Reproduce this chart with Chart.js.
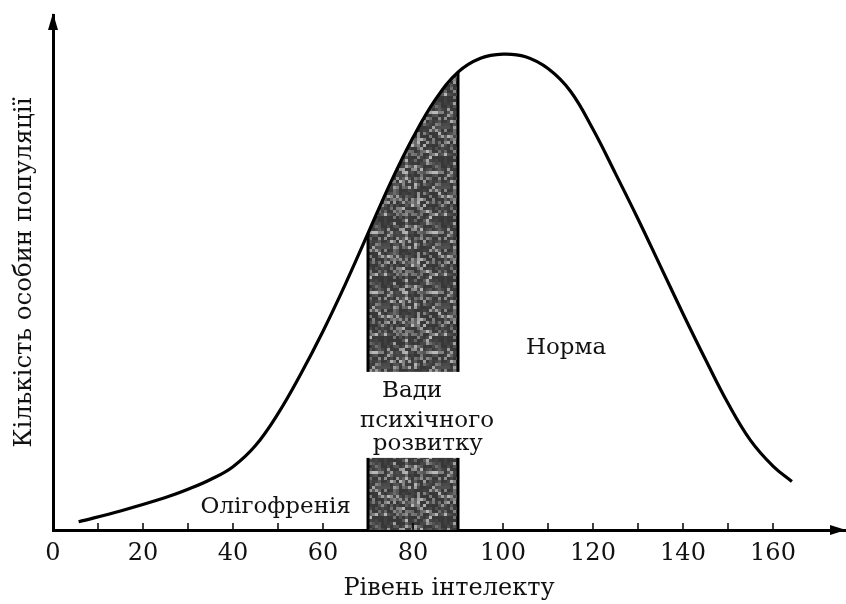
<!DOCTYPE html>
<html>
<head>
<meta charset="utf-8">
<script src="https://cdn.jsdelivr.net/npm/chart.js@4"></script>
<style>
  html, body { margin: 0; padding: 0; background: #fff; }
  #wrap { width: 846px; height: 604px; }
</style>
</head>
<body>
<div id="wrap"><canvas id="iq-chart"></canvas></div>
<script>
// рівень інтелекту (x) і відносна кількість особин (y)
const iqLevels = [5.7, 15, 25, 30, 35, 40, 45, 50, 55, 60, 65, 70, 75, 80, 85, 90, 95, 100, 105, 110,
                  115, 120, 125, 130, 135, 140, 145, 150, 155, 160, 164.2];
const counts   = [1.6, 3.7, 6.3, 7.9, 9.8, 12.3, 16.4, 22.6, 30.2, 38.6, 47.8, 57.6, 67.4, 76.2, 83.6, 88.9, 91.6, 92.4, 91.9, 89.6,
                  85.2, 77.8, 69.2, 60.4, 51.2, 42.0, 33.1, 24.6, 17.4, 12.4, 9.4];
const shadeRange = [70, 90];
const xTickLabels = [0, 20, 40, 60, 80, 100, 120, 140, 160];
const minorTicks = [10, 20, 30, 40, 50, 60, 70, 80, 90, 100, 110, 120, 130, 140, 150, 160];

const FONT = "'DejaVu Serif', 'Liberation Serif', serif";

const curve = iqLevels.map((v, i) => ({x: v, y: counts[i]}));
const shaded = curve.filter(p => p.x >= shadeRange[0] && p.x <= shadeRange[1]);

// сіра "зерниста" текстура для заштрихованої області
function makeTexture() {
    const c = document.createElement('canvas');
    c.width = 60; c.height = 60;
    const g = c.getContext('2d');
    for (let i = 0; i < 20; i++) {
        for (let j = 0; j < 20; j++) {
            let n = Math.sin(i * 12.9898 + j * 78.233) * 43758.5453;
            n = n - Math.floor(n);
            const v = Math.round(55 + 130 * n * n * n);
            g.fillStyle = `rgb(${v},${v},${v})`;
            g.fillRect(i * 3, j * 3, 3, 3);
        }
    }
    return g.createPattern(c, 'repeat');
}

const overlay = {
    id: 'overlay',
    afterDatasetsDraw(chart) {
        const {ctx, chartArea, scales: {x, y}} = chart;
        ctx.save();

        // краї заштрихованої області
        ctx.strokeStyle = '#000';
        ctx.lineWidth = 3;
        shadeRange.forEach(v => {
            const p = curve.find(pt => pt.x === v);
            ctx.beginPath();
            ctx.moveTo(x.getPixelForValue(v), y.getPixelForValue(0));
            ctx.lineTo(x.getPixelForValue(v), y.getPixelForValue(p.y));
            ctx.stroke();
        });

        // білий проміжок під підпис
        const gx0 = x.getPixelForValue(shadeRange[0]) - 3;
        const gx1 = x.getPixelForValue(shadeRange[1]) + 3;
        const gy0 = y.getPixelForValue(30.7);
        const gy1 = y.getPixelForValue(14.0);
        ctx.fillStyle = '#fff';
        ctx.fillRect(gx0, gy0, gx1 - gx0, gy1 - gy0);

        // дрібні поділки на осі x
        ctx.lineWidth = 1.5;
        minorTicks.forEach(v => {
            const px = x.getPixelForValue(v);
            ctx.beginPath();
            ctx.moveTo(px, chartArea.bottom);
            ctx.lineTo(px, chartArea.bottom - 7);
            ctx.stroke();
        });

        // стрілки осей
        ctx.fillStyle = '#000';
        ctx.beginPath();
        ctx.moveTo(chartArea.left, chartArea.top - 2);
        ctx.lineTo(chartArea.left - 5, chartArea.top + 15);
        ctx.lineTo(chartArea.left + 5, chartArea.top + 15);
        ctx.closePath();
        ctx.fill();
        ctx.beginPath();
        ctx.moveTo(chartArea.right + 1, chartArea.bottom);
        ctx.lineTo(chartArea.right - 15, chartArea.bottom - 5);
        ctx.lineTo(chartArea.right - 15, chartArea.bottom + 5);
        ctx.closePath();
        ctx.fill();

        // підписи областей
        ctx.fillStyle = '#111';
        ctx.font = '23px ' + FONT;
        ctx.textAlign = 'center';
        ctx.textBaseline = 'alphabetic';
        ctx.fillText('Олігофренія', x.getPixelForValue(49.5), y.getPixelForValue(3.3));
        ctx.fillText('Норма', x.getPixelForValue(114), y.getPixelForValue(34.2));
        ctx.fillText('Вади', x.getPixelForValue(79.8), y.getPixelForValue(25.8));
        ctx.fillText('психічного', x.getPixelForValue(83.1), y.getPixelForValue(20.0));
        ctx.fillText('розвитку', x.getPixelForValue(83.3), y.getPixelForValue(15.6));

        ctx.restore();
    }
};

new Chart(document.getElementById('iq-chart'), {
    type: 'line',
    data: {
        datasets: [
            {
                data: curve,
                borderColor: '#000',
                borderWidth: 3.2,
                pointRadius: 0,
                tension: 0.4,
                fill: false,
                order: 0
            },
            {
                data: shaded,
                borderWidth: 0,
                borderColor: 'rgba(0,0,0,0)',
                backgroundColor: makeTexture(),
                pointRadius: 0,
                tension: 0.4,
                fill: 'origin',
                order: 1
            }
        ]
    },
    options: {
        responsive: true,
        maintainAspectRatio: false,
        animation: false,
        layout: { autoPadding: false, padding: { top: 15, right: 1, bottom: 0, left: 0 } },
        plugins: {
            legend: { display: false },
            tooltip: { enabled: false }
        },
        scales: {
            x: {
                type: 'linear',
                min: 0,
                max: 176,
                grid: { display: false, drawTicks: false },
                border: { display: true, color: '#000', width: 3 },
                ticks: {
                    stepSize: 10,
                    autoSkip: false,
                    maxRotation: 0,
                    padding: 9,
                    color: '#111',
                    font: { family: FONT, size: 24 },
                    callback: v => xTickLabels.includes(v) ? String(v) : ''
                },
                title: {
                    display: true,
                    text: 'Рівень інтелекту',
                    color: '#111',
                    font: { family: FONT, size: 24 },
                    padding: { top: 0, bottom: 1 }
                },
                afterFit(scale) {
                    scale.height = 74;
                    scale.paddingLeft = 0;
                    scale.paddingRight = 0;
                }
            },
            y: {
                min: 0,
                max: 100,
                grid: { display: false, drawTicks: false },
                border: { display: true, color: '#000', width: 3 },
                ticks: { display: false },
                title: {
                    display: true,
                    text: 'Кількість особин популяції',
                    color: '#111',
                    font: { family: FONT, size: 24.5 },
                    padding: { top: 10, bottom: 0 }
                },
                afterFit(scale) { scale.width = 53; }
            }
        }
    },
    plugins: [overlay]
});
</script>
</body>
</html>
